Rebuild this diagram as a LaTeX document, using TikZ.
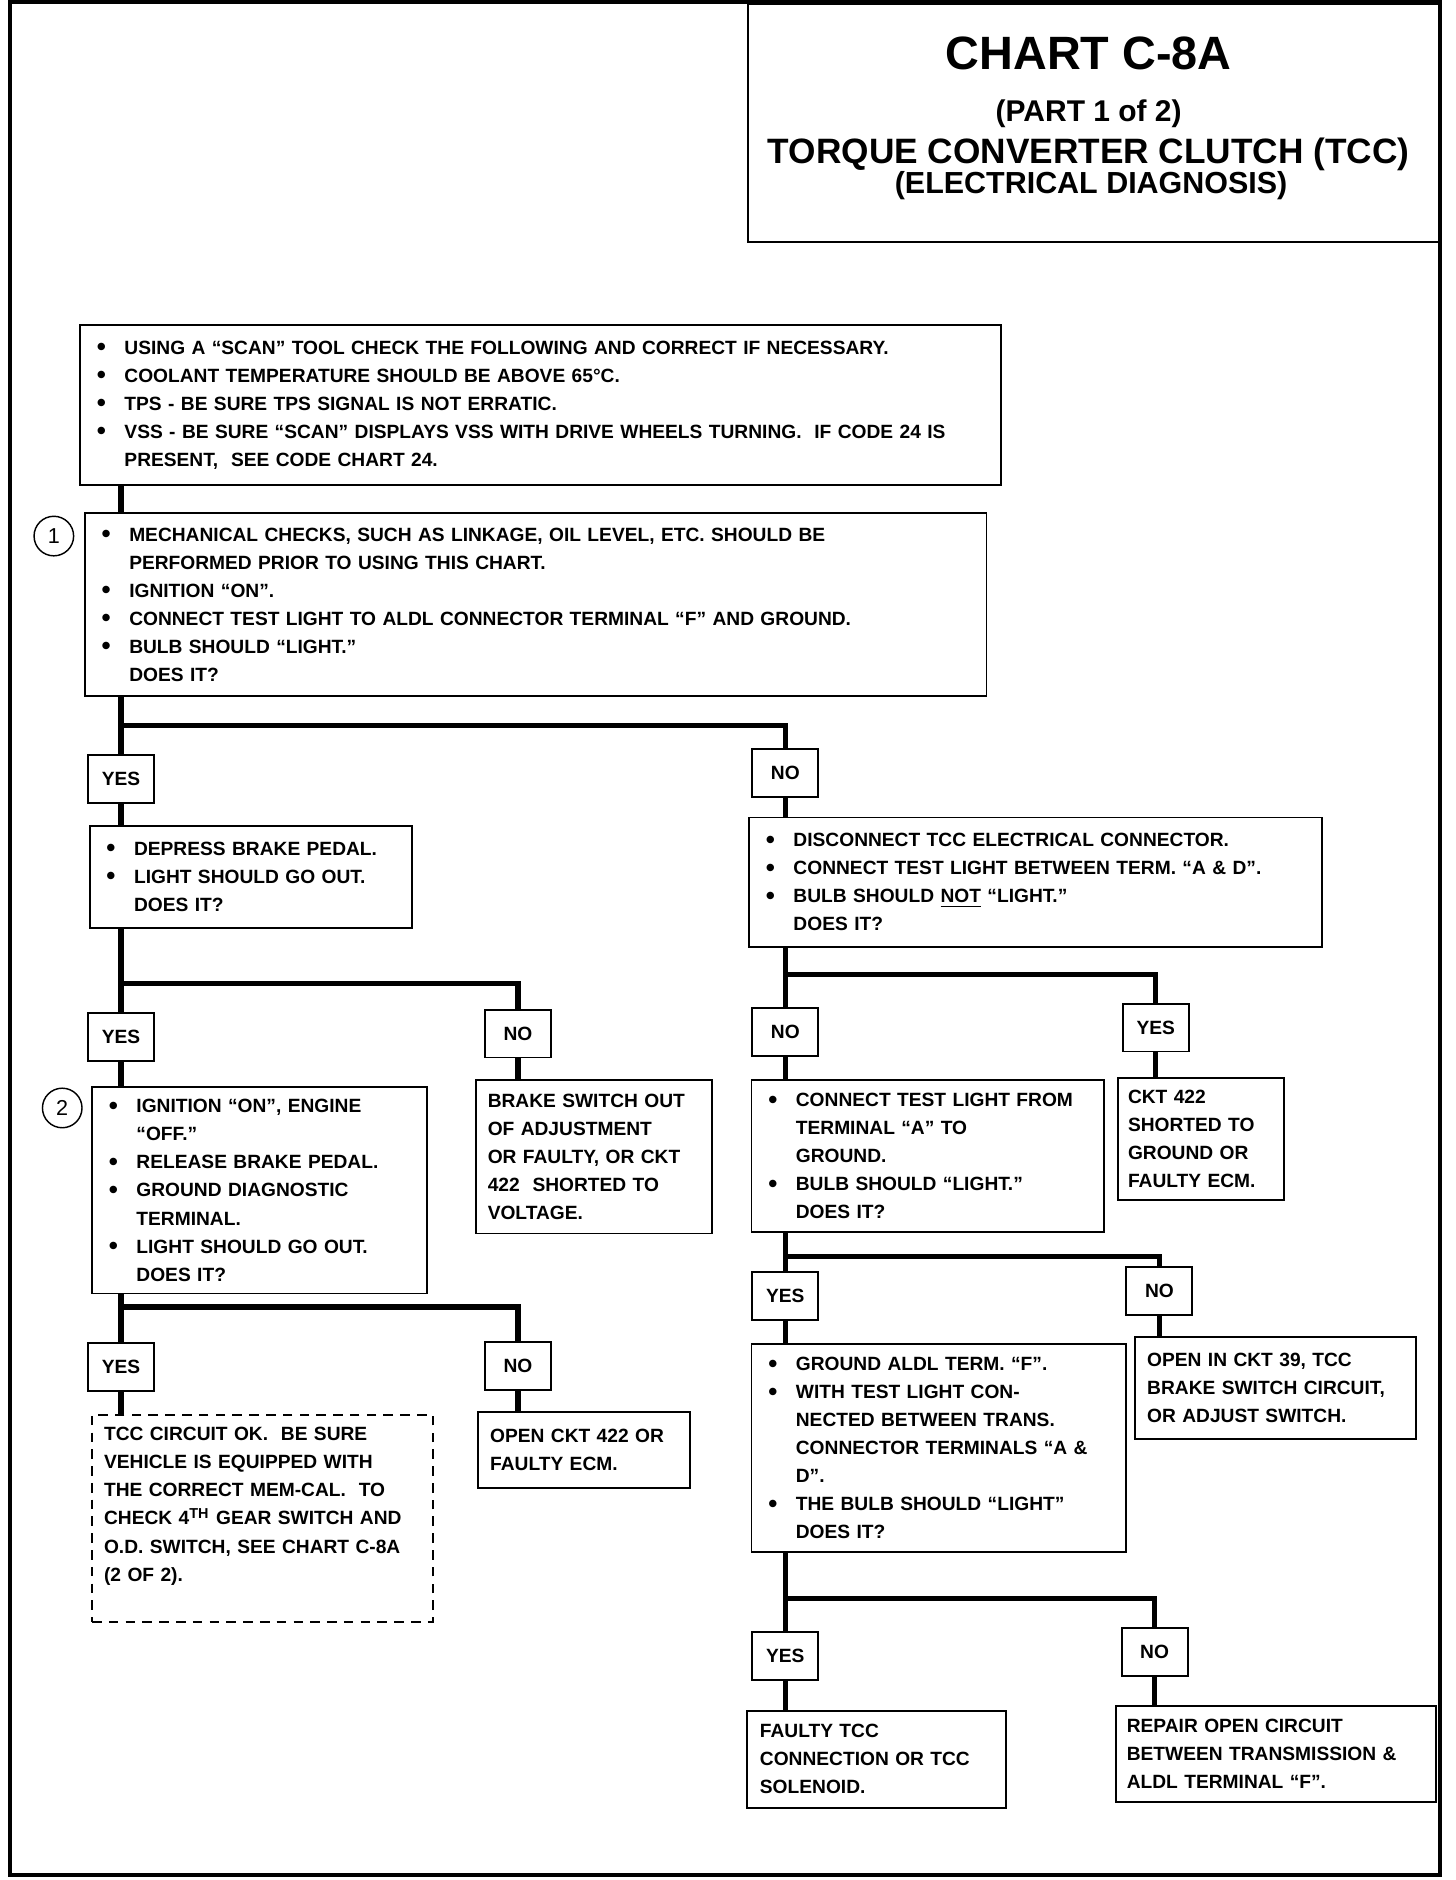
\documentclass[tikz,border=0pt]{standalone}
\usepackage{fontspec}
\setmainfont{Liberation Sans}
\usepackage{tikz}
\usetikzlibrary{positioning}
\newcommand{\bl}{\makebox[11.5pt][l]{\raisebox{-.15ex}{\scalebox{1.35}{\textbullet}}}}
\newcommand{\bi}[1]{\mbox{\bl#1}}
\newcommand{\ci}[1]{\mbox{\hspace*{11.5pt}#1}}
\begin{document}
\begin{tikzpicture}[x=0.5pt, y=-0.5pt,
            every node/.style={font=\bfseries\fontsize{8}{11.7}\selectfont},
            box/.style={draw, line width=.8pt, anchor=north west, align=left, inner xsep=7pt, inner ysep=0pt},
            note/.style={box, inner xsep=5pt},
            ans/.style={draw, line width=.8pt, minimum width=27.5pt, minimum height=20pt, inner sep=0pt},
            conn/.style={line width=2.2pt},
            num/.style={draw, circle, line width=.6pt, minimum size=16.5pt, inner sep=0pt, font=\fontsize{9}{10}\selectfont}
        ]
          \useasboundingbox (0,0) rectangle (1214,1568);
          \draw[line width=1.7pt] (8,2) rectangle (1201,1564);
          % title
          \node[draw, line width=1pt, anchor=north west, minimum width=289pt, minimum height=99.5pt, inner sep=0pt] (t_0) at (623,2) {};
          \node[anchor=base, font=\bfseries\fontsize{19.5}{20}\selectfont] (t_1) at (908,58) {CHART C-8A};
          \node[anchor=base, font=\bfseries\fontsize{12.5}{13}\selectfont] (t_2) at (908,101) {(PART 1 of 2)};
          \node[anchor=base, font=\bfseries\fontsize{14.7}{15}\selectfont] (t_3) at (908,136) {TORQUE CONVERTER CLUTCH (TCC)};
          \node[anchor=base, font=\bfseries\fontsize{12.7}{13}\selectfont] (t_4) at (910,161) {(ELECTRICAL DIAGNOSIS)};
          % boxes
          \node[box, text width=370pt, minimum height=67pt] (b_1) at (66,270) {%
            \bi{USING A “SCAN” TOOL CHECK THE FOLLOWING AND CORRECT IF NECESSARY.}\\
            \bi{COOLANT TEMPERATURE SHOULD BE ABOVE 65°C.}\\
            \bi{TPS - BE SURE TPS SIGNAL IS NOT ERRATIC.}\\
            \bi{VSS - BE SURE “SCAN” DISPLAYS VSS WITH DRIVE WHEELS TURNING.\ \ IF CODE 24 IS}\\
            \ci{PRESENT,\ \ SEE CODE CHART 24.}};
          \node[box, text width=362pt, minimum height=76.5pt] (b_2) at (70,427) {%
            \bi{MECHANICAL CHECKS, SUCH AS LINKAGE, OIL LEVEL, ETC. SHOULD BE}\\
            \ci{PERFORMED PRIOR TO USING THIS CHART.}\\
            \bi{IGNITION “ON”.}\\
            \bi{CONNECT TEST LIGHT TO ALDL CONNECTOR TERMINAL “F” AND GROUND.}\\
            \bi{BULB SHOULD “LIGHT.”}\\
            \ci{DOES IT?}};
          \node[num] (c_1) [below left=4pt and 6.5pt of b_2.north west] {1};
          \node[box, text width=120.5pt, minimum height=42.5pt] (b_3) at (74,688) {%
            \bi{DEPRESS BRAKE PEDAL.}\\
            \bi{LIGHT SHOULD GO OUT.}\\
            \ci{DOES IT?}};
          \node[box, text width=225pt, minimum height=54pt] (b_4) at (624,681) {%
            \bi{DISCONNECT TCC ELECTRICAL CONNECTOR.}\\
            \bi{CONNECT TEST LIGHT BETWEEN TERM. “A \& D”.}\\
            \bi{BULB SHOULD \underline{NOT} “LIGHT.”}\\
            \ci{DOES IT?}};
          \node[box, text width=125.5pt, minimum height=86pt] (b_5) at (76,906) {%
            \bi{IGNITION “ON”, ENGINE}\\
            \ci{“OFF.”}\\
            \bi{RELEASE BRAKE PEDAL.}\\
            \bi{GROUND DIAGNOSTIC}\\
            \ci{TERMINAL.}\\
            \bi{LIGHT SHOULD GO OUT.}\\
            \ci{DOES IT?}};
          \node[num] (c_2) [below left=3pt and 6pt of b_5.north west] {2};
          \node[note, text width=88.5pt, minimum height=64pt] (b_6) at (396,900) {%
            BRAKE SWITCH OUT\\ OF ADJUSTMENT\\ OR FAULTY, OR CKT\\ 422\ \ SHORTED TO\\ VOLTAGE.};
          \node[note, dash pattern=on 4pt off 3pt, text width=132pt, minimum height=86.5pt] (b_7) at (76,1179) {%
            TCC CIRCUIT OK.\ \ BE SURE\\ VEHICLE IS EQUIPPED WITH\\ THE CORRECT MEM-CAL.\ \ TO\\
            CHECK 4\textsuperscript{TH} GEAR SWITCH AND\\ O.D. SWITCH, SEE CHART C-8A\\ (2 OF 2).\\ \mbox{}};
          \node[note, text width=78.5pt, minimum height=31.5pt] (b_8) at (398,1177) {%
            OPEN CKT 422 OR\\ FAULTY ECM.};
          \node[box, text width=133pt, minimum height=63.5pt] (b_9) at (626,900) {%
            \bi{CONNECT TEST LIGHT FROM}\\
            \ci{TERMINAL “A” TO}\\
            \ci{GROUND.}\\
            \bi{BULB SHOULD “LIGHT.”}\\
            \ci{DOES IT?}};
          \node[note, inner xsep=4pt, text width=61pt, minimum height=51pt] (b_10) at (932,898) {%
            CKT 422\\ SHORTED TO\\ GROUND OR\\ FAULTY ECM.};
          \node[box, text width=142pt, minimum height=87pt] (b_11) at (626,1120) {%
            \bi{GROUND ALDL TERM. “F”.}\\
            \bi{WITH TEST LIGHT CON-}\\
            \ci{NECTED BETWEEN TRANS.}\\
            \ci{CONNECTOR TERMINALS “A \&}\\
            \ci{D”.}\\
            \bi{THE BULB SHOULD “LIGHT”}\\
            \ci{DOES IT?}};
          \node[note, text width=107pt, minimum height=42.5pt] (b_12) at (946,1114) {%
            OPEN IN CKT 39, TCC\\ BRAKE SWITCH CIRCUIT,\\ OR ADJUST SWITCH.};
          \node[note, inner xsep=5.5pt, text width=97pt, minimum height=40.5pt] (b_13) at (622,1426) {%
            FAULTY TCC\\ CONNECTION OR TCC\\ SOLENOID.};
          \node[note, inner xsep=4.5pt, text width=124.5pt, minimum height=40pt] (b_14) at (930,1422) {%
            REPAIR OPEN CIRCUIT\\ BETWEEN TRANSMISSION \&\\ ALDL TERMINAL “F”.};
          % yes / no
          \node[ans] (y_1) at (101,650) {YES};
          \node[ans] (n_1) at (655,645) {NO};
          \node[ans] (y_2) at (101,865) {YES};
          \node[ans] (n_2) at (432,862) {NO};
          \node[ans] (y_3) at (101,1140) {YES};
          \node[ans] (n_3) at (432,1139) {NO};
          \node[ans] (n_4) at (655,861) {NO};
          \node[ans] (y_4) at (964,857) {YES};
          \node[ans] (y_5) at (655,1081) {YES};
          \node[ans] (n_5) at (967,1077) {NO};
          \node[ans] (y_6) at (655,1381) {YES};
          \node[ans] (n_6) at (963,1378) {NO};
          % branch points
          \coordinate (k_1) at (101,605);
          \coordinate (k_2) at (101,820);
          \coordinate (k_3) at (101,1090);
          \coordinate (k_4) at (655,813);
          \coordinate (k_5) at (655,1048);
          \coordinate (k_6) at (655,1333);
          % connectors
          \draw[conn] (b_1.south -| y_1) -- (b_2.north -| y_1);
          \draw[conn] (b_2.south -| y_1) -- (y_1);
          \draw[conn] (k_1) -| (n_1);
          \draw[conn] (y_1) -- (y_1 |- b_3.north);
          \draw[conn] (n_1) -- (n_1 |- b_4.north);
          \draw[conn] (b_3.south -| y_2) -- (y_2);
          \draw[conn] (k_2) -| (n_2);
          \draw[conn] (y_2) -- (y_2 |- b_5.north);
          \draw[conn] (n_2) -- (n_2 |- b_6.north);
          \draw[conn] (b_5.south -| y_3) -- (y_3);
          \draw[conn] (k_3) -| (n_3);
          \draw[conn] (y_3) -- (y_3 |- b_7.north);
          \draw[conn] (n_3) -- (n_3 |- b_8.north);
          \draw[conn] (b_4.south -| n_4) -- (n_4);
          \draw[conn] (k_4) -| (y_4);
          \draw[conn] (n_4) -- (n_4 |- b_9.north);
          \draw[conn] (y_4) -- (y_4 |- b_10.north);
          \draw[conn] (b_9.south -| y_5) -- (y_5);
          \draw[conn] (k_5) -| (n_5);
          \draw[conn] (y_5) -- (y_5 |- b_11.north);
          \draw[conn] (n_5) -- (n_5 |- b_12.north);
          \draw[conn] (b_11.south -| y_6) -- (y_6);
          \draw[conn] (k_6) -| (n_6);
          \draw[conn] (y_6) -- (y_6 |- b_13.north);
          \draw[conn] (n_6) -- (n_6 |- b_14.north);
        \end{tikzpicture}
\end{document}
